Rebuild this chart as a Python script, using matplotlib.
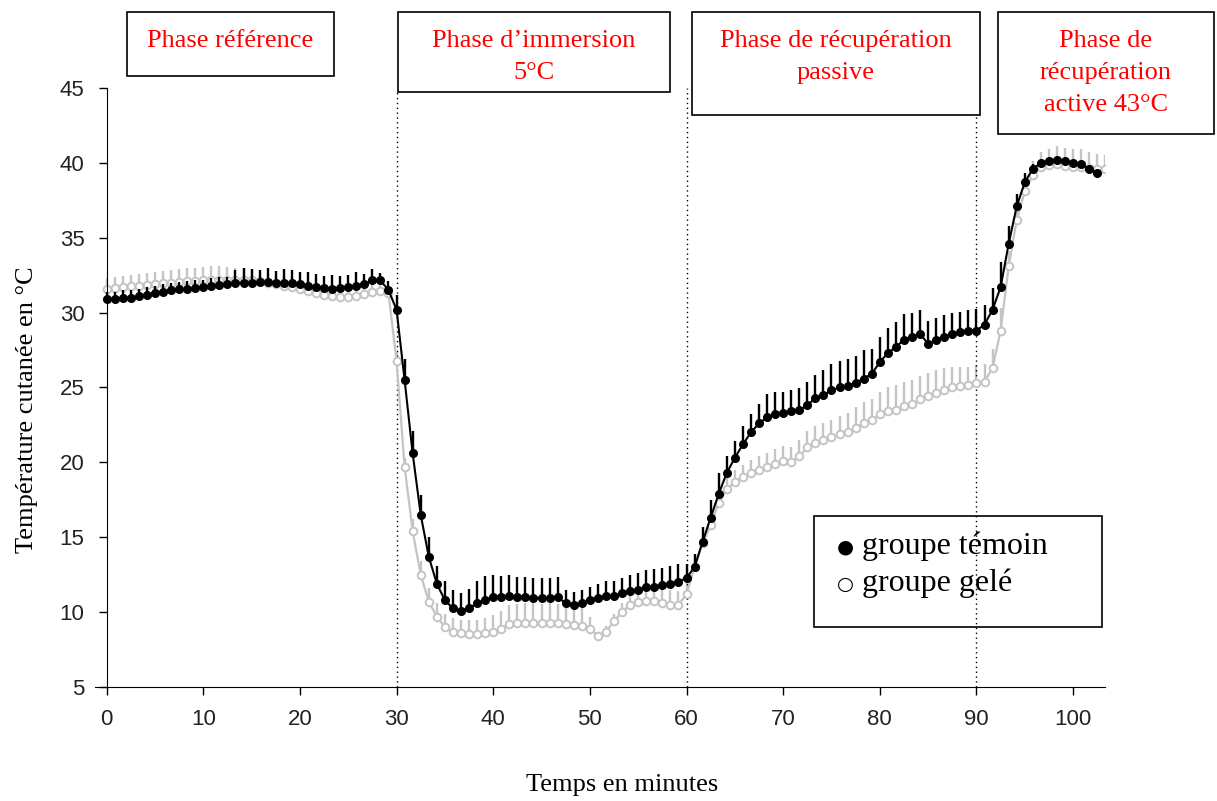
import matplotlib.pyplot as plt
from matplotlib.patches import Rectangle
import numpy as np

# skin temperature (°C), one reading every 50 s
temoin = [30.9, 30.9, 31.0, 31.0, 31.1, 31.2, 31.3, 31.4, 31.5, 31.55, 31.6, 31.65,
          31.7, 31.8, 31.85, 31.9, 31.95, 32.0, 32.0, 32.05, 32.05, 32.0, 32.0, 31.95,
          31.9, 31.8, 31.7, 31.65, 31.6, 31.65, 31.7, 31.8, 31.9, 32.2, 32.15, 31.5,
          30.2, 25.5, 20.6, 16.5, 13.7, 11.9, 10.8, 10.25, 10.1, 10.25, 10.6, 10.8,
          11.0, 11.0, 11.05, 11.0, 11.0, 10.95, 10.95, 10.95, 11.0, 10.6, 10.45, 10.6,
          10.8, 10.95, 11.05, 11.1, 11.25, 11.4, 11.5, 11.65, 11.7, 11.8, 11.9, 12.0,
          12.3, 13.0, 14.7, 16.3, 17.9, 19.3, 20.3, 21.2, 22.0, 22.6, 23.0, 23.2,
          23.3, 23.4, 23.5, 23.8, 24.3, 24.5, 24.8, 25.0, 25.1, 25.3, 25.6, 25.9,
          26.7, 27.3, 27.7, 28.2, 28.4, 28.6, 27.9, 28.2, 28.4, 28.6, 28.7, 28.8,
          28.8, 29.2, 30.2, 31.7, 34.6, 37.1, 38.7, 39.6, 40.0, 40.1, 40.2, 40.1,
          40.0, 39.9, 39.6, 39.3]
temoin_err = [0.5, 0.5, 0.5, 0.5, 0.5, 0.5, 0.5, 0.5, 0.5, 0.5, 0.5, 0.5,
              0.5, 0.5, 0.5, 0.5, 0.9, 1.0, 0.9, 0.8, 0.9, 0.8, 0.9, 0.9,
              0.8, 0.9, 0.9, 0.8, 0.9, 0.8, 0.8, 0.9, 0.7, 0.7, 0.5, 0.6,
              1.0, 1.4, 1.5, 1.3, 1.3, 1.2, 1.3, 1.2, 1.2, 1.3, 1.5, 1.6,
              1.45, 1.4, 1.4, 1.35, 1.35, 1.35, 1.35, 1.35, 1.35, 0.9, 0.9, 0.9,
              0.9, 0.9, 1.0, 1.0, 1.0, 1.05, 1.1, 1.15, 1.15, 1.15, 1.15, 1.2,
              0.9, 0.9, 1.0, 1.2, 1.4, 1.1, 1.1, 1.2, 1.2, 1.3, 1.55, 1.5,
              1.4, 1.4, 1.45, 1.55, 1.55, 1.65, 1.75, 1.8, 1.8, 1.8, 1.9, 1.7,
              1.7, 1.7, 1.7, 1.7, 1.6, 1.6, 1.55, 1.45, 1.45, 1.4, 1.35, 1.4,
              1.45, 1.3, 1.45, 1.65, 1.2, 0.85, 0.6, 0.3, 0.2, 0.2, 0.2, 0.2,
              0.2, 0.2, 0.2, 0.2]
gele = [31.6, 31.65, 31.7, 31.75, 31.8, 31.85, 31.9, 31.95, 32.0, 32.05, 32.1, 32.1,
        32.15, 32.2, 32.2, 32.2, 32.2, 32.2, 32.15, 32.1, 32.0, 31.9, 31.8, 31.7,
        31.6, 31.45, 31.3, 31.2, 31.1, 31.05, 31.05, 31.1, 31.25, 31.4, 31.45, 31.3,
        26.8, 19.7, 15.4, 12.5, 10.7, 9.7, 9.0, 8.7, 8.6, 8.55, 8.55, 8.6,
        8.7, 8.9, 9.2, 9.25, 9.3, 9.3, 9.25, 9.3, 9.25, 9.2, 9.15, 9.1,
        8.9, 8.4, 8.7, 9.4, 10.0, 10.5, 10.7, 10.75, 10.75, 10.6, 10.5, 10.5,
        11.2, 13.0, 14.6, 15.8, 17.3, 18.2, 18.7, 19.0, 19.3, 19.5, 19.7, 19.9,
        20.1, 20.0, 20.4, 21.0, 21.3, 21.5, 21.7, 21.9, 22.0, 22.3, 22.6, 22.8,
        23.2, 23.4, 23.5, 23.75, 23.9, 24.2, 24.4, 24.6, 24.8, 25.0, 25.1, 25.2,
        25.3, 25.4, 26.3, 28.8, 33.1, 36.2, 38.1, 39.2, 39.7, 39.85, 39.9, 39.8,
        39.7, 39.7, 39.65, 39.6, 39.6]
gele_err = [0.7, 0.7, 0.75, 0.75, 0.8, 0.8, 0.8, 0.85, 0.85, 0.85, 0.9, 0.9,
            0.9, 0.9, 0.9, 0.85, 0.8, 0.8, 0.75, 0.7, 0.7, 0.7, 0.7, 0.7,
            0.7, 0.7, 0.7, 0.7, 0.7, 0.7, 0.7, 0.7, 0.7, 0.6, 0.6, 0.5,
            0.6, 0.6, 0.8, 0.9, 0.9, 0.9, 0.9, 0.9, 0.9, 0.9, 0.9, 1.0,
            1.1, 1.2, 1.3, 1.3, 1.3, 1.3, 1.3, 1.3, 1.3, 1.3, 1.3, 1.2,
            0.8, 0.3, 0.4, 0.5, 0.6, 0.8, 0.9, 1.0, 1.0, 1.0, 1.0, 0.9,
            0.8, 0.8, 0.8, 0.8, 0.8, 0.8, 0.8, 0.8, 0.85, 0.9, 0.9, 1.0,
            1.0, 1.0, 1.1, 1.1, 1.1, 1.1, 1.1, 1.2, 1.3, 1.4, 1.4, 1.45,
            1.5, 1.6, 1.65, 1.65, 1.6, 1.6, 1.55, 1.55, 1.5, 1.4, 1.3, 1.2,
            1.2, 1.2, 1.3, 1.5, 1.0, 0.8, 0.8, 0.9, 1.0, 1.1, 1.2, 1.2,
            1.2, 1.2, 1.1, 1.0, 0.9]

step_min = 50 / 60
t_temoin = np.arange(len(temoin)) * step_min
t_gele = np.arange(len(gele)) * step_min

phases = ["Phase référence", "Phase d\u2019immersion\n5°C",
          "Phase de récupération\npassive", "Phase de\nrécupération\nactive 43°C"]
phase_limits = [30, 60, 90]

W, H = 1217, 801
fig = plt.figure(figsize=(W / 100, H / 100), dpi=100)
ax = fig.add_axes([95 / W, 1 - 687 / H, (1105 - 95) / W, (687 - 88) / H])

serif = ["Liberation Serif", "DejaVu Serif"]
gray = "#c4c4c4"

ax.errorbar(t_gele, gele, yerr=[np.zeros(len(gele)), gele_err], color=gray,
            ecolor=gray, elinewidth=1.7, capsize=0, lw=1.6, marker="o", ms=5.5,
            mfc="white", mec=gray, mew=1.4, zorder=2)
ax.errorbar(t_temoin, temoin, yerr=[np.zeros(len(temoin)), temoin_err], color="black",
            ecolor="black", elinewidth=1.7, capsize=0, lw=1.5, marker="o", ms=5.5,
            mfc="black", mec="black", zorder=3)

# dotted separators between phases
ax.vlines(phase_limits, 5, [44.7, 45, 43.2], colors="black", linestyles=(0, (1, 2.5)), lw=1)

ax.set_xlim(-1.2, 103.3)
ax.set_ylim(5, 45)
ax.set_xticks(range(0, 101, 10))
ax.set_yticks(range(5, 46, 5))
ax.spines["top"].set_visible(False)
ax.spines["right"].set_visible(False)
ax.spines["left"].set_position(("data", 0))
ax.tick_params(direction="out", length=6, width=1, labelsize=16, colors="black",
               labelcolor="#222222")
ax.tick_params(axis="y", pad=10)
ax.tick_params(axis="x", pad=10)
for lbl in ax.get_xticklabels() + ax.get_yticklabels():
    lbl.set_family("Liberation Sans")

fig.text(622 / W, 1 - 785 / H, "Temps en minutes", family=serif, fontsize=19,
         ha="center", va="center")
fig.text(27 / W, 1 - 410 / H, "Température cutanée en °C", family=serif, fontsize=19,
         ha="center", va="center", rotation=90)

# phase title boxes: (left, top, right, bottom) in pixels
boxes = [(127, 12, 334, 76), (398, 12, 670, 92), (692, 12, 980, 115), (998, 12, 1214, 134)]
for (x0, y0, x1, y1), label in zip(boxes, phases):
    fig.patches.append(Rectangle((x0 / W, 1 - y1 / H), (x1 - x0) / W, (y1 - y0) / H,
                                 transform=fig.transFigure, fill=False, ec="black", lw=1.2))
    for k, line in enumerate(label.split("\n")):
        fig.text((x0 + x1) / 2 / W, 1 - (47 + 32 * k) / H, line, family=serif,
                 fontsize=19, color="red", ha="center", va="baseline")

# legend
fig.patches.append(Rectangle((814 / W, 1 - 627 / H), (1102 - 814) / W, (627 - 516) / H,
                             transform=fig.transFigure, fill=False, ec="black", lw=1.2))
fig.text(845 / W, 1 - 547 / H, "●", family=["DejaVu Sans"], fontsize=14, ha="center", va="center")
fig.text(845 / W, 1 - 584 / H, "○", family=["DejaVu Sans"], fontsize=14, ha="center", va="center")
fig.text(862 / W, 1 - 546 / H, "groupe témoin", family=serif, fontsize=23, va="center")
fig.text(862 / W, 1 - 583 / H, "groupe gelé", family=serif, fontsize=23, va="center")

plt.savefig("out.png", dpi=100)
